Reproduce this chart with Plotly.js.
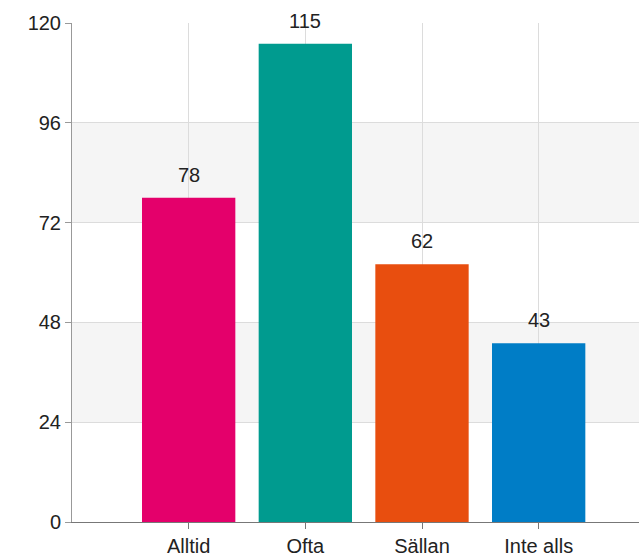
<!DOCTYPE html>
<html>
<head>
<meta charset="utf-8">
<script src="https://cdn.plot.ly/plotly-3.0.1.min.js"></script>
<style>html,body{margin:0;padding:0;background:#fff;}#chart{width:639px;height:554px;}</style>
</head>
<body>
<div id="chart"></div>
<script>
const categories = ["Alltid", "Ofta", "Sällan", "Inte alls"];
const values = [78, 115, 62, 43];
const colors = ["#e4006b", "#009b8f", "#e84e0f", "#007dc6"];
const yTicks = [0, 24, 48, 72, 96, 120];

const xIdx = categories.map((c, i) => i);

const trace = {
  type: "bar",
  x: xIdx,
  y: values,
  marker: { color: colors, line: { width: 0 } },
  hoverinfo: "none",
  width: 0.8
};

const shapes = [];
for (let i = 0; i < yTicks.length - 1; i++) {
  if (i % 2 === 1) {
    shapes.push({
      type: "rect", xref: "paper", yref: "y", layer: "below",
      x0: 0, x1: 1, y0: yTicks[i], y1: yTicks[i + 1],
      fillcolor: "#f5f5f5", line: { width: 0 }
    });
  }
}

const annotations = values.map((v, i) => ({
  x: i, y: v, xref: "x", yref: "y",
  text: String(v), showarrow: false,
  yanchor: "bottom", yshift: 10,
  font: { family: "Liberation Sans, Arial, sans-serif", size: 20, color: "#222" }
}));

const layout = {
  width: 639, height: 554,
  margin: { l: 72, r: 0, t: 23, b: 32, pad: 0 },
  paper_bgcolor: "#fff", plot_bgcolor: "#fff",
  showlegend: false,
  bargap: 0.2,
  font: { family: "Liberation Sans, Arial, sans-serif", size: 20, color: "#222" },
  xaxis: {
    range: [-1, 3.86],
    tickvals: xIdx, ticktext: categories,
    ticks: "outside", ticklen: 6, tickcolor: "#777", tickwidth: 1,
    showgrid: true, gridcolor: "#dcdcdc", gridwidth: 1,
    showline: true, linecolor: "#777", linewidth: 1,
    zeroline: false, fixedrange: true,
    tickfont: { size: 20, color: "#222" }
  },
  yaxis: {
    range: [0, 120],
    tickvals: yTicks,
    ticks: "outside", ticklen: 6, tickcolor: "#999", tickwidth: 1,
    showgrid: true, gridcolor: "#dcdcdc", gridwidth: 1,
    showline: true, linecolor: "#999", linewidth: 1,
    zeroline: false, fixedrange: true,
    tickfont: { size: 20, color: "#222" }
  },
  shapes: shapes,
  annotations: annotations
};

Plotly.newPlot("chart", [trace], layout, { displayModeBar: false, staticPlot: true });
</script>
</body>
</html>
